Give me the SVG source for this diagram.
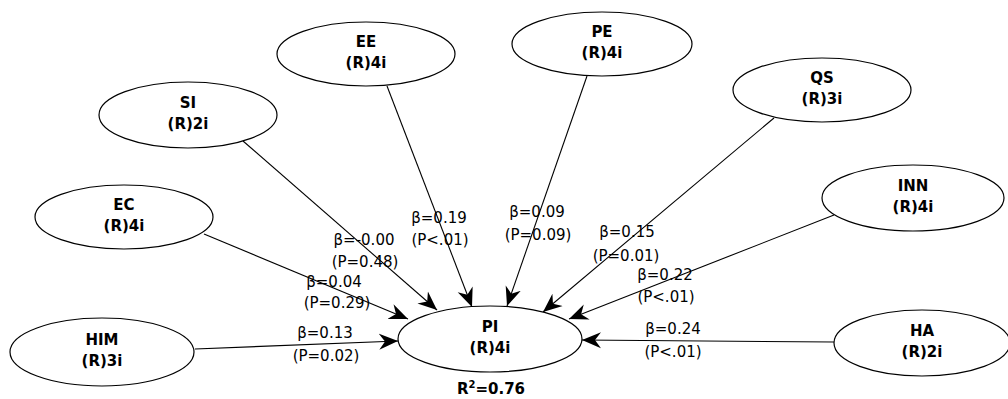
<svg xmlns="http://www.w3.org/2000/svg" width="1008" height="399" viewBox="0 0 1008 399">
<style>
.node ellipse{fill:#fff;stroke:#000;stroke-width:1.2}
.nt{font-family:"DejaVu Sans",Verdana,sans-serif;font-weight:bold;font-size:15px;fill:#000;text-anchor:middle}
.lb{font-family:"DejaVu Sans",Verdana,sans-serif;font-size:15px;fill:#000;text-anchor:middle}
.edges line{stroke:#000;stroke-width:1.1;marker-end:url(#arr)}
</style>
<defs>
<marker id="arr" markerUnits="userSpaceOnUse" markerWidth="20" markerHeight="18" refX="19" refY="9" orient="auto">
<path d="M0,1 L19,9 L0,17 L6,9 Z" fill="#000"/>
</marker>
</defs>
<rect width="1008" height="399" fill="#fff"/>
<g class="edges">
<line x1="387" y1="86" x2="472" y2="307"/>
<line x1="587" y1="76" x2="507" y2="306"/>
<line x1="243" y1="141" x2="437" y2="310"/>
<line x1="774" y1="118" x2="543" y2="312"/>
<line x1="834" y1="215" x2="569" y2="319"/>
<line x1="204" y1="234" x2="408" y2="319"/>
<line x1="195" y1="349" x2="398" y2="341"/>
<line x1="834" y1="342" x2="582" y2="340"/>
</g>
<g id="EE" class="node"><ellipse cx="366" cy="54" rx="89" ry="32"/><text class="nt" x="366" y="47">EE</text><text class="nt" x="366" y="68">(R)4i</text></g>
<g id="PE" class="node"><ellipse cx="602" cy="44" rx="90" ry="32"/><text class="nt" x="602" y="37">PE</text><text class="nt" x="602" y="58">(R)4i</text></g>
<g id="SI" class="node"><ellipse cx="188" cy="115" rx="89" ry="33"/><text class="nt" x="188" y="108">SI</text><text class="nt" x="188" y="129">(R)2i</text></g>
<g id="QS" class="node"><ellipse cx="822" cy="90" rx="89" ry="32"/><text class="nt" x="822" y="83">QS</text><text class="nt" x="822" y="104">(R)3i</text></g>
<g id="EC" class="node"><ellipse cx="124" cy="217" rx="89" ry="32"/><text class="nt" x="124" y="210">EC</text><text class="nt" x="124" y="231">(R)4i</text></g>
<g id="INN" class="node"><ellipse cx="913" cy="198" rx="91" ry="33"/><text class="nt" x="913" y="191">INN</text><text class="nt" x="913" y="212">(R)4i</text></g>
<g id="HIM" class="node"><ellipse cx="102" cy="352" rx="92" ry="34"/><text class="nt" x="102" y="345">HIM</text><text class="nt" x="102" y="366">(R)3i</text></g>
<g id="HA" class="node"><ellipse cx="922" cy="343" rx="88" ry="33"/><text class="nt" x="922" y="336">HA</text><text class="nt" x="922" y="357">(R)2i</text></g>
<g id="PI" class="node"><ellipse cx="490" cy="339" rx="92" ry="33"/><text class="nt" x="490" y="332">PI</text><text class="nt" x="490" y="353">(R)4i</text>
<text class="nt" x="491" y="394">R<tspan font-size="10px" dy="-6">2</tspan><tspan dy="6">=0.76</tspan></text></g>
<g id="labels">
<text class="lb" x="439" y="223">β=0.19</text><text class="lb" x="440" y="245">(P&lt;.01)</text>
<text class="lb" x="537" y="217">β=0.09</text><text class="lb" x="538" y="240">(P=0.09)</text>
<text class="lb" x="364" y="245">β=-0.00</text><text class="lb" x="365" y="267">(P=0.48)</text>
<text class="lb" x="627" y="237">β=0.15</text><text class="lb" x="626" y="261">(P=0.01)</text>
<text class="lb" x="334" y="287">β=0.04</text><text class="lb" x="337" y="308">(P=0.29)</text>
<text class="lb" x="665" y="280">β=0.22</text><text class="lb" x="666" y="302">(P&lt;.01)</text>
<text class="lb" x="325" y="338">β=0.13</text><text class="lb" x="326" y="361">(P=0.02)</text>
<text class="lb" x="673" y="334">β=0.24</text><text class="lb" x="673" y="357">(P&lt;.01)</text>
</g>
</svg>
